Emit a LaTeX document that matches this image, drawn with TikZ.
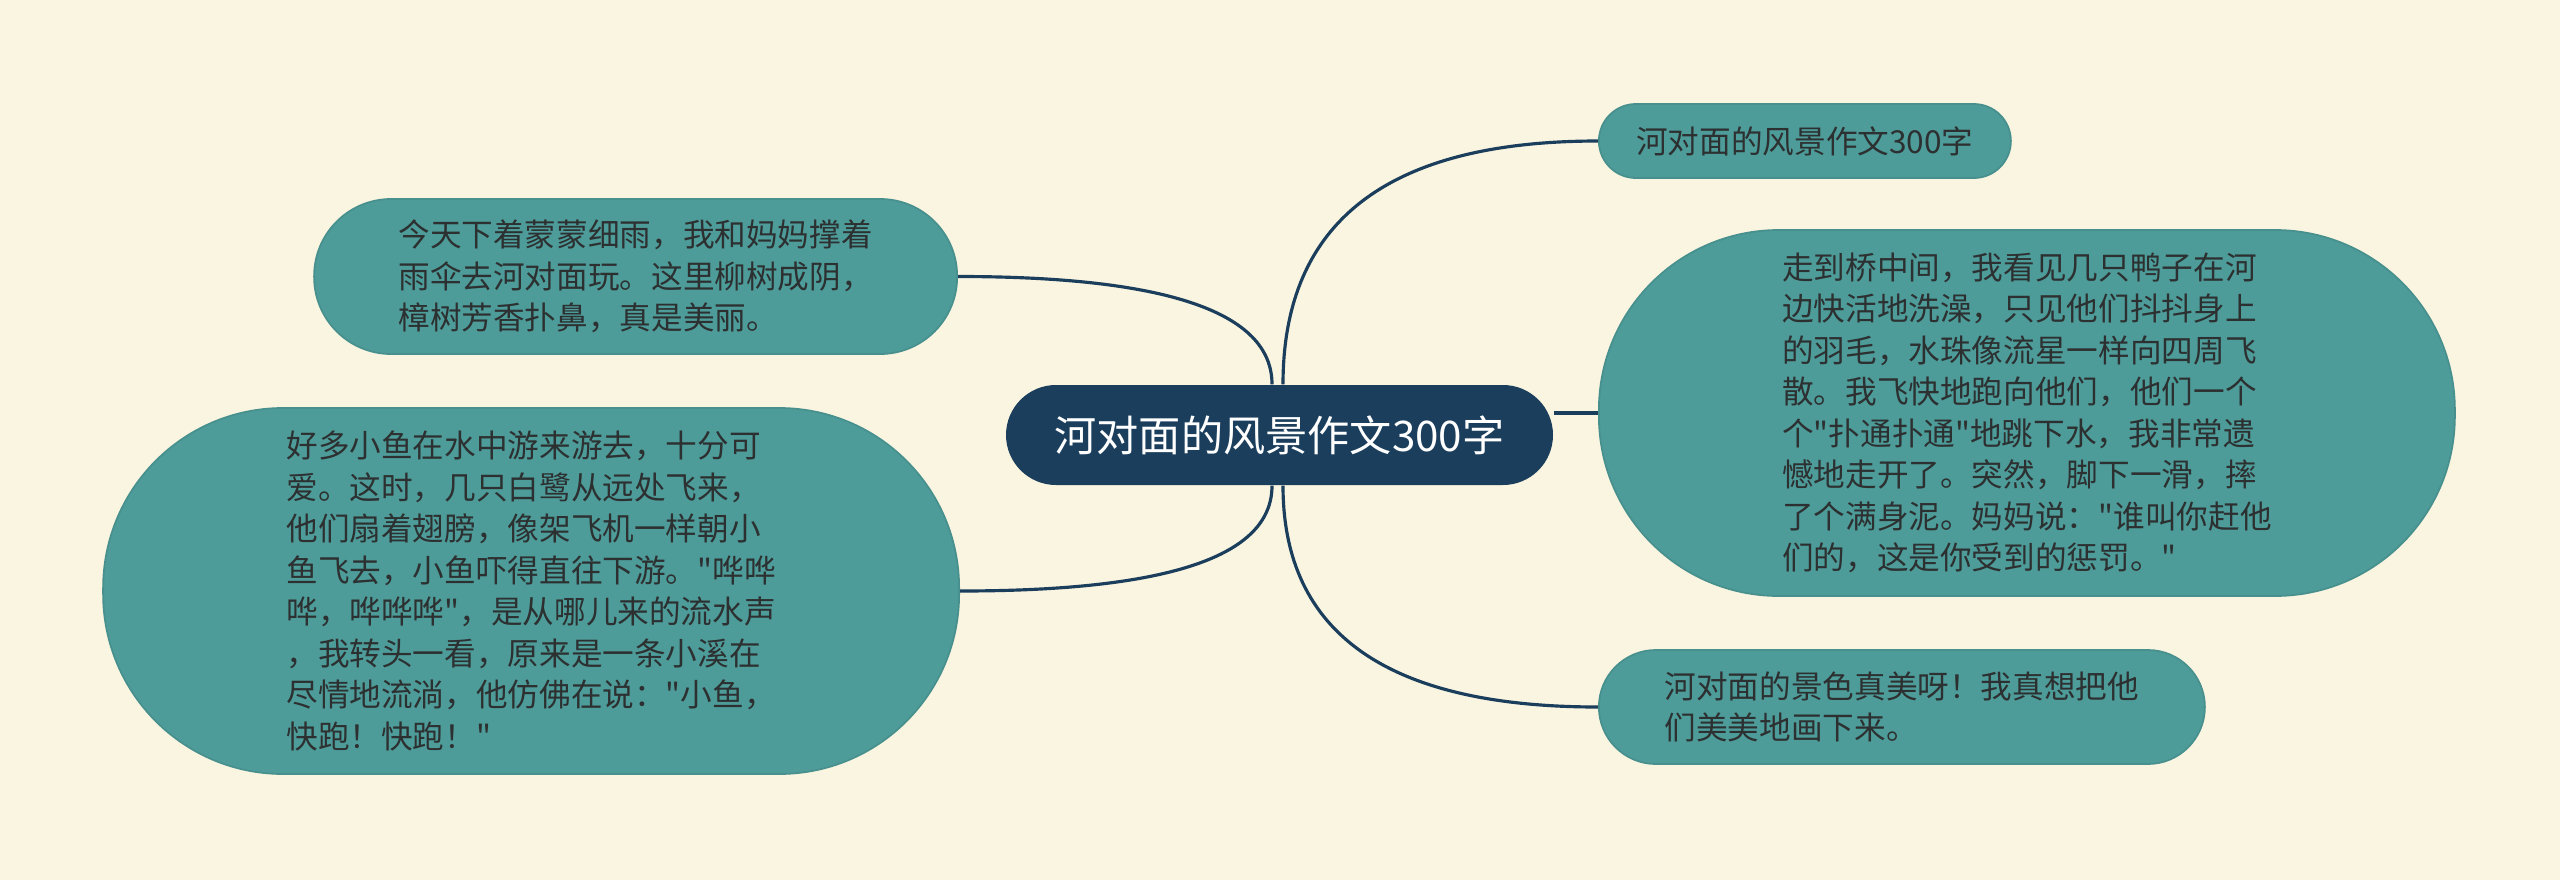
\documentclass[tikz,border=0pt]{standalone}
\usepackage{fontspec}
\newfontfamily\cjk{Noto Sans CJK SC}
\definecolor{crema}{RGB}{250, 245, 225}
\definecolor{verdeazul}{RGB}{77, 156, 154}
\definecolor{marino}{RGB}{27, 62, 92}
\definecolor{tinta}{RGB}{45, 48, 48}
\usepackage{tikz}
\usetikzlibrary{positioning}
\usetikzlibrary{calc}

\begin{document}
\begin{tikzpicture}[
    leaf/.style={fill=verdeazul, draw=verdeazul!92!black, line width=0.5pt, text=tinta, font=\cjk\fontsize{9pt}{11.8pt}\selectfont, align=left, inner sep=0pt},
    branch/.style={draw=marino, line width=0.9pt}
    ]
        % Background
        \useasboundingbox (0,0) rectangle (25.6,-8.8);
        \fill[crema] (0,0) rectangle (25.6,-8.8);

        % Central topic
        \node[fill=marino, rounded corners=0.5cm, minimum width=5.47cm, minimum height=1cm, text=white, font=\cjk\fontsize{12pt}{14pt}\selectfont] (root) at (12.795,-4.35) {河对面的风景作文300字};

        % Right side
        \node[leaf, rounded corners=0.37cm, minimum width=4.12cm, minimum height=0.74cm, anchor=west] (n1) at (15.98,-1.41) {河对面的风景作文300字};
        \node[leaf, rounded corners=1.8cm, minimum width=8.56cm, minimum height=3.66cm, anchor=west] (n2) at (15.98,-4.13) {走到桥中间，我看见几只鸭子在河\\边快活地洗澡，只见他们抖抖身上\\的羽毛，水珠像流星一样向四周飞\\散。我飞快地跑向他们，他们一个\\个"扑通扑通"地跳下水，我非常遗\\憾地走开了。突然，脚下一滑，摔\\了个满身泥。妈妈说："谁叫你赶他\\们的，这是你受到的惩罚。"};
        \node[leaf, rounded corners=0.57cm, minimum width=6.06cm, minimum height=1.14cm, anchor=west] (n3) at (15.98,-7.07) {河对面的景色真美呀！我真想把他\\们美美地画下来。};

        % Left side
        \node[leaf, rounded corners=0.77cm, minimum width=6.43cm, minimum height=1.55cm, anchor=east] (l1) at (9.58,-2.765) {今天下着蒙蒙细雨，我和妈妈撑着\\雨伞去河对面玩。这里柳树成阴，\\樟树芳香扑鼻，真是美丽。};
        \node[leaf, rounded corners=1.8cm, minimum width=8.56cm, minimum height=3.66cm, anchor=east] (l2) at (9.60,-5.91) {好多小鱼在水中游来游去，十分可\\爱。这时，几只白鹭从远处飞来，\\他们扇着翅膀，像架飞机一样朝小\\鱼飞去，小鱼吓得直往下游。"哗哗\\哗，哗哗哗"，是从哪儿来的流水声\\，我转头一看，原来是一条小溪在\\尽情地流淌，他仿佛在说："小鱼，\\快跑！快跑！"};

        % Branches
        \draw[branch] ($(root.north)+(0.035,0)$) to[out=90, in=180, out distance=1.63cm, in distance=2.1cm] (n1.west);
        \draw[branch] (n2.west -| root.east) -- (n2.west);
        \draw[branch] ($(root.south)+(0.035,0)$) to[out=-90, in=180, out distance=1.48cm, in distance=2.1cm] (n3.west);
        \draw[branch] ($(root.north)+(-0.075,0)$) to[out=90, in=0, out distance=0.72cm, in distance=2.09cm] (l1.east);
        \draw[branch] ($(root.south)+(-0.075,0)$) to[out=-90, in=0, out distance=0.71cm, in distance=2.08cm] (l2.east);

    \end{tikzpicture}
\end{document}
